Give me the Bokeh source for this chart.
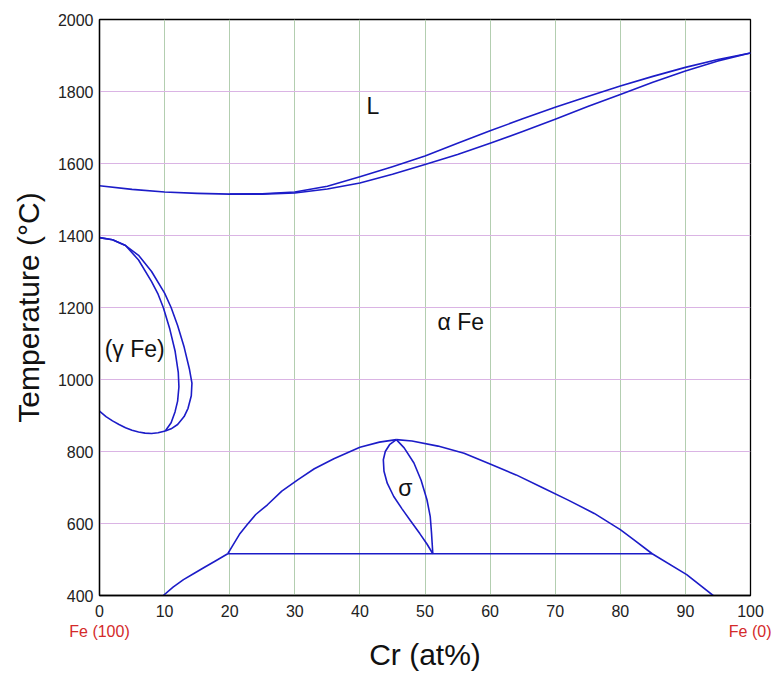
from bokeh.plotting import figure
from bokeh.models import LinearAxis, FixedTicker, Range1d
from bokeh.core.properties import value
from bokeh.embed import file_html
from bokeh.resources import INLINE

# Liquidus / solidus
liq_x = [0, 5, 10, 15, 20, 25, 30, 35, 40, 45, 50, 55, 60, 65, 70, 75, 80, 85, 90, 95, 100]
liq_T = [1538, 1528, 1521, 1517, 1515, 1516, 1521, 1537, 1563, 1591, 1621, 1656, 1691, 1724,
         1756, 1786, 1815, 1842, 1867, 1889, 1907]
sol_x = [20, 25, 30, 35, 40, 45, 50, 55, 60, 65, 70, 75, 80, 85, 90, 95, 100]
sol_T = [1515, 1515, 1518, 1529, 1546, 1570, 1597, 1625, 1656, 1689, 1723, 1758, 1792,
         1826, 1857, 1885, 1907]

# gamma loop
gam_out_x = [0, 2, 4, 6, 8, 10, 11, 12, 13, 13.8, 14.2, 14.1, 13.6, 13.0, 12, 11, 10.1]
gam_out_T = [1394, 1388, 1372, 1345, 1300, 1240, 1200, 1150, 1090, 1030, 990, 955, 920, 897, 875, 863, 857]
gam_in_x = [0, 2, 4, 6, 8, 9, 9.8, 10.8, 11.6, 12.1, 12.2, 12.0, 11.6, 11, 10.1]
gam_in_T = [1394, 1388, 1372, 1332, 1272, 1237, 1200, 1140, 1080, 1020, 980, 940, 910, 880, 857]
gam_low_x = [0, 1, 2, 3, 4, 5, 6, 7, 8, 9, 10.1]
gam_low_T = [912, 897, 885, 875, 866, 859, 854, 851, 850, 852, 857]

# sigma region
dome_l_x = [19.7, 20.5, 21.5, 22.7, 24, 25.8, 28, 30.5, 33, 36, 40, 43, 45.6]
dome_l_T = [516, 540, 570, 597, 625, 652, 690, 722, 752, 780, 812, 826, 833]
dome_r_x = [45.6, 48, 52, 56, 60, 64, 68, 72, 76, 80, 82, 84.9, 90.2, 94.4]
dome_r_T = [833, 829, 815, 795, 765, 735, 700, 665, 628, 583, 556, 516, 458, 398]
low_l_x = [9.8, 11.3, 12.9, 14.5, 16.0, 17.8, 19.7]
low_l_T = [400, 423, 444, 461, 477, 496, 516]
iso_x = [19.7, 84.9]
iso_T = [516, 516]
sig_l_x = [45.6, 44.6, 43.9, 43.6, 43.7, 44.2, 45.2, 46.5, 47.8, 49.2, 50.3, 51.2]
sig_l_T = [833, 820, 800, 777, 745, 712, 675, 640, 607, 572, 543, 516]
sig_r_x = [45.6, 46.8, 48.3, 49.4, 50.3, 50.8, 51.0, 51.1, 51.2]
sig_r_T = [833, 810, 768, 720, 666, 620, 574, 545, 516]

# labels
lab_text = ["L", "α Fe", "(γ Fe)", "σ"]
lab_x = [42, 55.5, 5.4, 47]
lab_T = [1760, 1160, 1085, 700]

x_ticks = [0, 10, 20, 30, 40, 50, 60, 70, 80, 90, 100]
y_ticks = [400, 600, 800, 1000, 1200, 1400, 1600, 1800, 2000]

FONT = "Liberation Sans"
BLUE = "#1c1cc8"

p = figure(width=771, height=673, output_backend="svg", toolbar_location=None,
           x_range=Range1d(0, 100), y_range=Range1d(400, 2000),
           min_border_left=99, min_border_right=21, min_border_top=19, min_border_bottom=77)
p.outline_line_color = "black"
p.outline_line_width = 1.3

p.xgrid.ticker = FixedTicker(ticks=[10, 20, 30, 40, 50, 60, 70, 80, 90])
p.xgrid.grid_line_color = "#b3ceb0"
p.xgrid.grid_line_width = 1
p.ygrid.ticker = FixedTicker(ticks=[600, 800, 1000, 1200, 1400, 1600, 1800])
p.ygrid.grid_line_color = "#dab4e4"
p.ygrid.grid_line_width = 1

for ax in (p.xaxis[0], p.yaxis[0]):
    ax.axis_line_color = "black"
    ax.axis_line_width = 1.3
    ax.major_tick_line_color = None
    ax.minor_tick_line_color = None
    ax.major_tick_out = 0
    ax.major_tick_in = 0
    ax.minor_tick_out = 0
    ax.minor_tick_in = 0
    ax.major_label_text_font = FONT
    ax.major_label_text_font_size = "16px"
    ax.major_label_text_color = "#222222"
p.xaxis[0].ticker = FixedTicker(ticks=x_ticks)
p.yaxis[0].ticker = FixedTicker(ticks=y_ticks)
p.xaxis[0].major_label_standoff = 9
p.yaxis[0].major_label_standoff = 6
p.yaxis[0].axis_label = "Temperature (°C)"
p.yaxis[0].axis_label_text_font = FONT
p.yaxis[0].axis_label_text_font_size = "30px"
p.yaxis[0].axis_label_text_font_style = "normal"
p.yaxis[0].axis_label_text_color = "#111111"
p.yaxis[0].axis_label_standoff = 10

ax2 = LinearAxis(ticker=FixedTicker(ticks=[0, 100]),
                 major_label_overrides={0: "Fe (100)", 100: "Fe (0)"})
ax2.axis_line_color = None
ax2.major_tick_line_color = None
ax2.minor_tick_line_color = None
ax2.major_tick_out = 0
ax2.major_tick_in = 0
ax2.minor_tick_out = 0
ax2.minor_tick_in = 0
ax2.major_label_text_font = FONT
ax2.major_label_text_font_size = "16px"
ax2.major_label_text_color = "#d42a2a"
ax2.major_label_standoff = 3
ax2.axis_label = "Cr (at%)"
ax2.axis_label_text_font = FONT
ax2.axis_label_text_font_size = "30px"
ax2.axis_label_text_font_style = "normal"
ax2.axis_label_text_color = "#111111"
ax2.axis_label_standoff = -5
p.add_layout(ax2, "below")

lw = 1.6
for xs, ys in [(liq_x, liq_T), (sol_x, sol_T), (gam_out_x, gam_out_T), (gam_in_x, gam_in_T),
               (gam_low_x, gam_low_T), (dome_l_x, dome_l_T), (dome_r_x, dome_r_T),
               (low_l_x, low_l_T), (iso_x, iso_T), (sig_l_x, sig_l_T), (sig_r_x, sig_r_T)]:
    p.line(xs, ys, line_color=BLUE, line_width=lw, line_join="round")

p.text(x=lab_x, y=lab_T, text=lab_text, text_font=value(FONT), text_font_size="23px",
       text_align="center", text_baseline="middle", text_color="#111111")

open("out.html", "w").write(file_html(p, INLINE))
